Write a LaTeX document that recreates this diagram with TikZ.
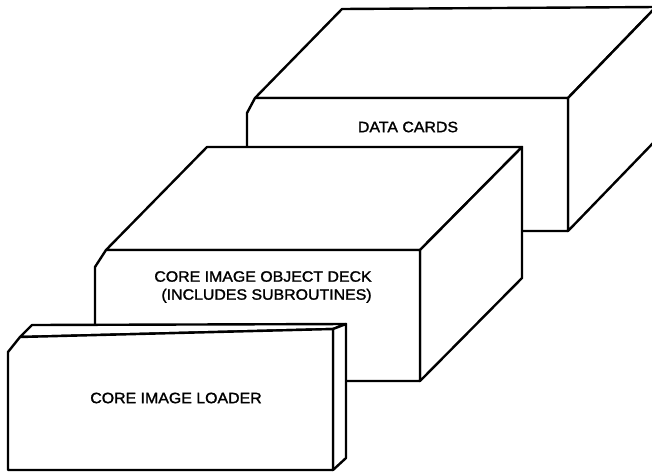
\documentclass[tikz,border=0pt]{standalone}
\usepackage{fontspec}
\setmainfont{Liberation Sans}
\newfontfamily\deckfont[FakeStretch=1.06, FakeBold=1.6]{Liberation Sans}
\usepackage{tikz}
\usetikzlibrary{positioning}

\begin{document}
\begin{tikzpicture}[
  x=1pt, y=-1pt,
  face/.style={draw=black, fill=white, line width=2.4pt, line join=round},
  label/.style={font=\deckfont\fontsize{15}{18}\selectfont, inner sep=0pt}
]
  \clip (0,0) rectangle (652,472);

  % Paquet du fond : cartes de données
  \draw[face] (255,98) -- (342,9) -- (656,7) -- (568,98) -- cycle;
  \draw[face] (568,98) -- (656,7) -- (656,140) -- (568,231) -- cycle;
  \draw[face] (255,98) -- (568,98) -- (568,231) -- (247,231) -- (247,113) -- cycle;
  \node[label] (data) at (408,127) {DATA CARDS};

  % Paquet du milieu : objet image mémoire
  \draw[face] (106,250) -- (207,147) -- (522,147) -- (420,250) -- cycle;
  \draw[face] (420,250) -- (522,147) -- (522,278) -- (420,381) -- cycle;
  \draw[face] (106,250) -- (420,250) -- (420,381) -- (95,381) -- (95,267) -- cycle;
  \node[label, align=right] (deck) at (263,287)
    {CORE IMAGE OBJECT DECK\\(INCLUDES SUBROUTINES)};

  % Paquet de devant : chargeur
  \draw[face] (20,337) -- (32,325) -- (346,324) -- (333,329) -- cycle;
  \draw[face] (333,329) -- (346,324) -- (346,458) -- (333,470) -- cycle;
  \draw[face] (20,337) -- (333,329) -- (333,470) -- (8,470) -- (8,352) -- cycle;
  \node[label] (loader) at (176,398) {CORE IMAGE LOADER};
\end{tikzpicture}
\end{document}
